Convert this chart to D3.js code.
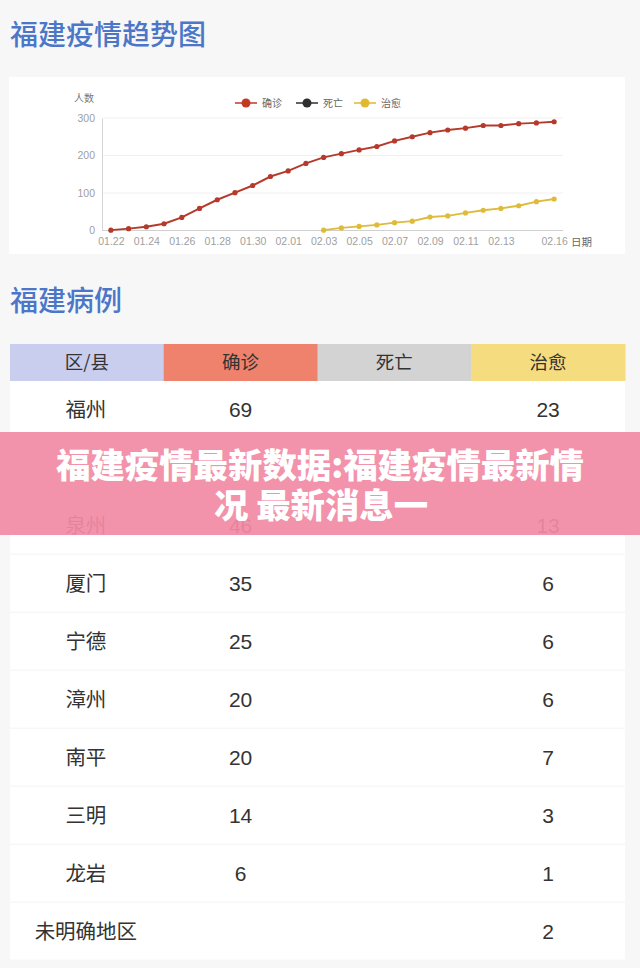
<!DOCTYPE html>
<html><head><meta charset="utf-8">
<script src="https://cdn.jsdelivr.net/npm/d3@7/dist/d3.min.js"></script>
<style>
html,body{margin:0;padding:0;background:#f7f7f7;}
svg{display:block;}
</style></head><body>
<script>
const dates = ["01.22","01.23","01.24","01.25","01.26","01.27","01.28","01.29","01.30","01.31","02.01","02.02","02.03","02.04","02.05","02.06","02.07","02.08","02.09","02.10","02.11","02.12","02.13","02.14","02.15","02.16"];
const confirmed = [1,5,10,18,35,59,82,101,120,144,159,179,195,205,215,224,239,250,261,268,273,280,280,285,287,290];
const cured = [null,null,null,null,null,null,null,null,null,null,null,null,1,7,11,15,21,25,36,39,47,54,59,66,77,84];
const deaths = [];
const xTickLabels = ["01.22","01.24","01.26","01.28","01.30","02.01","02.03","02.05","02.07","02.09","02.11","02.13","02.16"];
const yTicks = [0,100,200,300];
const seriesNames = ["确诊","死亡","治愈"];
const seriesColors = ["#c23a22","#2f2f2f","#e0b932"];
const lineColors = ["#b53a2b","#2f2f2f","#dfbb3a"];

const tableHeaders = ["区/县","确诊","死亡","治愈"];
const headerColors = ["#c9cdee","#ef826c","#d3d3d3","#f5dc7e"];
// second row is fully covered by the banner in the reference; its values cannot be read
const regions = ["福州",null,"泉州","厦门","宁德","漳州","南平","三明","龙岩","未明确地区"];
const regionConfirmed = [69,null,46,35,25,20,20,14,6,null];
const regionDeaths = [null,null,null,null,null,null,null,null,null,null];
const regionCured = [23,null,13,6,6,6,7,3,1,2];

const W = 640, H = 968;
const CJK = "'Noto Sans CJK SC','Noto Sans',sans-serif";
const LAT = "'Liberation Sans',Arial,sans-serif";
const svg = d3.select("body").append("svg").attr("width",W).attr("height",H);
svg.append("rect").attr("width",W).attr("height",H).attr("fill","#f7f7f7");

// Titles
svg.append("text").attr("x",10).attr("y",45).attr("font-family",CJK).attr("font-size",28)
  .attr("font-weight",500).attr("fill","#4c76c8").text("福建疫情趋势图");
svg.append("text").attr("x",10).attr("y",311).attr("font-family",CJK).attr("font-size",28)
  .attr("font-weight",500).attr("fill","#4c76c8").text("福建病例");

// Chart card
svg.append("rect").attr("x",9).attr("y",77).attr("width",616).attr("height",177).attr("fill","#fff");

const x = d3.scalePoint().domain(dates).range([102,563]).padding(0.5);
const y = d3.scaleLinear().domain([0,300]).range([230.5,118]);

const g = svg.append("g");
g.selectAll(".grid").data(yTicks.filter(d=>d>0)).join("line")
  .attr("x1",102).attr("x2",563).attr("y1",d=>y(d)).attr("y2",d=>y(d))
  .attr("stroke","#f0f0f0").attr("stroke-width",1);

const yAxis = d3.axisLeft(y).tickValues(yTicks).tickSize(0).tickPadding(7);
const ya = g.append("g").attr("transform","translate(102,0)").call(yAxis);
ya.select(".domain").attr("stroke","#d6d6d6");
ya.selectAll("text").attr("font-family",LAT).attr("font-size",10.5).attr("fill","#a0a0a0");

const xAxis = d3.axisBottom(x).tickValues(xTickLabels).tickSize(0).tickPadding(7);
const xa = g.append("g").attr("transform","translate(0,230.5)").call(xAxis);
xa.select(".domain").attr("stroke","#d0d0d0").attr("d","M102,0H563");
xa.selectAll("text").attr("font-family",LAT).attr("font-size",10.5).attr("fill","#a0a0a0");

svg.append("text").attr("x",84).attr("y",102).attr("text-anchor","middle").attr("font-family",CJK)
  .attr("font-size",10).attr("fill","#777").text("人数");
svg.append("text").attr("x",571).attr("y",245.5).attr("font-family",CJK)
  .attr("font-size",10.5).attr("fill","#666").text("日期");

const allSeries = [confirmed, deaths, cured];
allSeries.forEach((vals,i)=>{
  const pts = vals.map((v,j)=>({d:dates[j],v})).filter(p=>p.v!==null && p.v!==undefined);
  if(!pts.length) return;
  g.append("path").datum(pts)
    .attr("d",d3.line().x(p=>x(p.d)).y(p=>y(p.v)))
    .attr("fill","none").attr("stroke",lineColors[i]).attr("stroke-width",2);
  g.selectAll(null).data(pts).join("circle")
    .attr("cx",p=>x(p.d)).attr("cy",p=>y(p.v)).attr("r",2.6).attr("fill",lineColors[i]);
});

const legX = [235,296,354];
seriesNames.forEach((n,i)=>{
  const lg = svg.append("g").attr("transform",`translate(${legX[i]},103)`);
  lg.append("line").attr("x1",0).attr("x2",22).attr("y1",0).attr("y2",0).attr("stroke",seriesColors[i]).attr("stroke-width",1.5);
  lg.append("circle").attr("cx",11).attr("cy",0).attr("r",4.5).attr("fill",seriesColors[i]);
  lg.append("text").attr("x",27).attr("y",3.8).attr("font-family",CJK).attr("font-size",10).attr("fill","#666").text(n);
});

// Table
const colX = d3.scaleBand().domain(d3.range(4)).range([10,625]);
const hY = 344, hH = 37, rowH = 58, bodyY = 381;
tableHeaders.forEach((h,i)=>{
  svg.append("rect").attr("x",colX(i)).attr("y",hY).attr("width",colX.bandwidth()+0.5).attr("height",hH).attr("fill",headerColors[i]);
  svg.append("text").attr("x",colX(i)+colX.bandwidth()/2).attr("y",hY+hH/2+6.8).attr("text-anchor","middle")
    .attr("font-family",CJK).attr("font-size",18.5).attr("fill","#333").text(h);
});
regions.forEach((r,k)=>{
  const ry = bodyY + k*rowH;
  svg.append("rect").attr("x",10).attr("y",ry).attr("width",615).attr("height",rowH-1.5).attr("fill","#fff");
  const cy = ry + rowH/2 + 6.5;
  const cells = [r, regionConfirmed[k], regionDeaths[k], regionCured[k]];
  cells.forEach((c,i)=>{
    if(c===null||c===undefined) return;
    svg.append("text").attr("x",colX(i)+colX.bandwidth()/2 - (i===0?1:0)).attr("y",cy).attr("text-anchor","middle")
      .attr("font-family", i===0?CJK:LAT).attr("font-size",i===0?20.5:21).attr("fill","#333").text(c);
  });
});

// Banner overlay
svg.append("rect").attr("x",0).attr("y",432).attr("width",W).attr("height",103).attr("fill","#f28aa5").attr("opacity",0.93);
svg.append("text").attr("x",320).attr("y",478).attr("text-anchor","middle").attr("font-family",CJK)
  .attr("font-weight",900).attr("font-size",34.4).attr("fill","#fff").text("福建疫情最新数据:福建疫情最新情");
svg.append("text").attr("x",321).attr("y",518).attr("text-anchor","middle").attr("font-family",CJK)
  .attr("font-weight",900).attr("font-size",34.4).attr("fill","#fff").text("况 最新消息一");
</script>
</body></html>
